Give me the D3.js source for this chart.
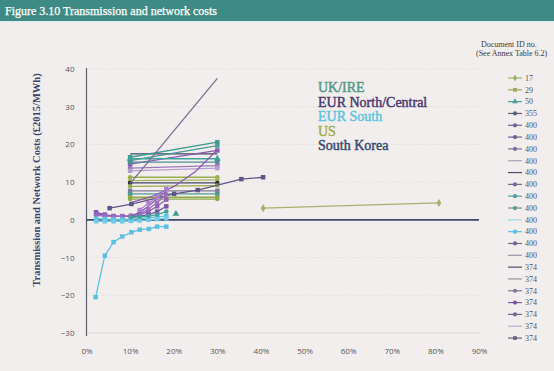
<!DOCTYPE html>
<html>
<head>
<meta charset="utf-8">
<script src="https://cdn.jsdelivr.net/npm/d3@7"></script>
<style>
	body { margin:0; background:#f3eeee; }
	svg { display:block; }
	.axis text { font-family:"Open Sans", sans-serif; font-size:8px; fill:#555; }
</style>
</head>
<body>
<div id="viz-container"></div>
<script>
// chart values
var xTickValues = [0,10,20,30,40,50,60,70,80,90];
var yTickValues = [-30,-20,-10,0,10,20,30,40];
var regionNames = ["UK/IRE","EUR North/Central","EUR South","US","South Korea"];
var docIds = ["17","29","50","355",
	"400","400","400","400","400","400","400","400","400","400","400","400",
	"374","374","374","374","374","374","374"];

// [renewable share %, cost £2015/MWh] per line
var seriesValues = [
	[[10,17.5],[30,17.5]],
	[[10,16.6],[30,20.6]],
	[[10,15.7],[30,19.7]],
	[[10,14.8],[30,18.4]],
	[[10,16.2],[30,16.2]],
	[[10,15.3],[30,15.3]],
	[[10,13.7],[30,14.4]],
	[[10,13.0],[30,13.7]],
	[[10,11.3],[30,11.3]],
	[[10,10.4],[30,10.6]],
	[[10,9.8],[30,9.8]],
	[[10,8.9],[30,9.1]],
	[[10,7.7],[30,7.7]],
	[[10,6.9],[30,6.9]],
	[[10,6.0],[30,6.0]],
	[[10,5.5],[30,5.5]],
	[[10,9.6],[30,37.5]],
	[[10,4.5],[15,6.2],[20,8.8],[25,12.8],[30,18.6]],
	[[5.3,3.1],[10.3,4.2],[20.1,6.9],[25.5,7.9],[35.5,10.8],[40.5,11.3]],
	[[40.5,3.1],[80.8,4.5]],
	[[20.5,1.6]],
	[[2.2,2.0],[4.2,1.4],[6.2,1.0],[8.2,0.9],[10.2,0.9],[12.2,1.0],[14.2,1.4],[16.2,2.2],[18.3,3.6]],
	[[2.2,1.6],[4.2,1.2],[6.2,1.0],[8.2,1.0],[10.2,1.1],[12.2,1.4],[14.2,2.2],[16.2,3.6],[18.3,5.4]],
	[[2.2,1.2],[4.2,1.0],[6.2,0.9],[8.2,0.9],[10.2,1.0],[12.2,1.6],[14.2,2.8],[16.2,4.6],[18.3,6.8]],
	[[10.2,1.0],[12.2,2.0],[14.2,3.6],[16.2,5.6],[18.3,7.6]],
	[[12.2,2.6],[14.2,4.4],[16.2,6.0],[18.3,8.2]],
	[[2.2,0.3],[4.2,0.2],[6.2,0.1],[8.2,0.1],[10.2,0.1],[12.2,0.3],[14.2,0.5],[16.2,0.8],[18.3,1.0]],
	[[2.2,-0.4],[4.2,-0.4],[6.2,-0.4],[8.2,-0.4],[10.2,-0.3],[12.2,-0.2],[14.2,0],[16.2,0.2],[18.3,0.4]],
	[[10.2,0.6],[12.2,0.8],[14.2,1.0],[16.2,1.4],[18.3,2.2]],
	[[2.1,-20.5],[4.2,-9.5],[6.2,-5.9],[8.2,-4.4],[10.3,-3.3],[12.2,-2.6],[14.3,-2.4],[16.2,-1.8],[18.3,-1.8]]
];

// styles, kept apart from the values
var seriesStyle = [
	["#3f4766","none"],["#3f9c90","square"],["#4a9a96","square"],["#8a5cb0","square"],
	["#3fa39c","triangle"],["#4f8e93","square"],["#9a7ab8","square"],["#b59fd0","square"],
	["#9aac4c","circle"],["#a5b35a","circle"],["#3f4766","circle"],["#9aac4c","circle"],
	["#7f7a9a","square"],["#4f9a90","square"],["#8fa84a","circle"],["#8fa84a","circle"],
	["#7a6f95","none"],["#8a5cb0","none"],["#5f5585","square"],["#a5b26b","diamond"],
	["#3f9c90","triangle"],
	["#7a55a5","square"],["#8d5fb5","square"],["#9b6cc0","circle"],["#8060a8","none"],["#b07ed0","square"],
	["#5bc3e3","square"],["#6fcbe6","square"],["#3fa39c","circle"],["#5bc0e0","square"]
];
var regionColors = ["#4f9a86","#4a3a6e","#5cc3dc","#a3ad4a","#384a70"];
var legendStyle = [
	["#9db067","diamond"],["#9aa85a","square"],["#4f9e95","triangle"],["#5b5f80","circle"],
	["#6d6790","circle"],["#6f5f92","circle"],["#7a7397","circle"],["#a7a0b8","none"],
	["#4a4d66","none"],["#6f6a90","circle"],["#49a3a3","circle"],["#5f9590","circle"],
	["#9fd6d6","none"],["#5bc0e0","square"],["#6e6690","circle"],["#9a96a8","none"],
	["#4a4d66","none"],["#9a8f98","none"],["#7a7a95","circle"],["#7d5a9a","circle"],
	["#6f6a92","circle"],["#b8aed0","none"],["#6a6285","square"]
];

var W = 554, H = 371;

var svg = d3.select('#viz-container')
	.append('svg')
		.attr('width', W)
		.attr('height', H);

svg.append('rect').attr('width', W).attr('height', H).attr('fill', '#f3eeee');

// title bar
svg.append('rect').attr('width', W).attr('height', 21).attr('fill', '#3e8b85');
svg.append('rect').attr('y', 21).attr('width', W).attr('height', 2).attr('fill', '#e6eeec');
svg.append('text')
	.attr('x', 5).attr('y', 15)
	.attr('font-family', '"Liberation Serif", serif')
	.attr('font-size', 12)
	.attr('fill', '#fff')
	.attr('stroke', '#fff').attr('stroke-width', 0.25)
	.text('Figure 3.10 Transmission and network costs');

var xScale = d3.scaleLinear().domain([0, 90]).range([86.5, 479]);
var yScale = d3.scaleLinear().domain([-30, 40]).range([333, 69]);

// faint grid
svg.append('g').selectAll('line')
	.data(yTickValues.filter(function(d){ return d !== 0; }))
	.enter().append('line')
		.attr('x1', xScale(0)).attr('x2', xScale(90))
		.attr('y1', function(d){ return yScale(d); })
		.attr('y2', function(d){ return yScale(d); })
		.attr('stroke', function(d){ return d === -30 ? '#dcd6d6' : '#e6e0e0'; })
		.attr('stroke-dasharray', function(d){ return d === -30 ? null : '3,2'; });

// axes
var yAxis = d3.axisLeft(yScale).tickValues(yTickValues).tickSize(0).tickPadding(12);
svg.append('g').attr('class', 'y axis')
	.attr('transform', 'translate(' + xScale(0) + ',0)')
	.call(yAxis)
	.call(function(g){ g.select('.domain').remove(); });

var xAxis = d3.axisBottom(xScale).tickValues(xTickValues)
	.tickFormat(function(d){ return d + '%'; })
	.tickSize(0).tickPadding(15);
svg.append('g').attr('class', 'x axis')
	.attr('transform', 'translate(0,' + yScale(-30) + ')')
	.call(xAxis)
	.call(function(g){ g.select('.domain').remove(); });

svg.append('line')
	.attr('x1', xScale(0)).attr('x2', xScale(0))
	.attr('y1', yScale(40) - 1).attr('y2', yScale(-30) + 3)
	.attr('stroke', '#5a5f6a').attr('stroke-width', 1.2);

svg.append('line')
	.attr('x1', xScale(0)).attr('x2', xScale(90))
	.attr('y1', yScale(0)).attr('y2', yScale(0))
	.attr('stroke', '#3d4a6a').attr('stroke-width', 1.6);

// y title
svg.append('text')
	.attr('transform', 'translate(40,' + 180 + ') rotate(-90)')
	.attr('text-anchor', 'middle')
	.attr('font-family', '"Liberation Serif", serif')
	.attr('font-weight', 'bold')
	.attr('font-size', 10.5)
	.attr('fill', '#36456b')
	.text('Transmission and Network Costs (£2015/MWh)');

var symbolTypes = {
	square: d3.symbolSquare,
	circle: d3.symbolCircle,
	triangle: d3.symbolTriangle,
	diamond: d3.symbolDiamond
};

var line = d3.line()
	.x(function(d){ return xScale(d[0]); })
	.y(function(d){ return yScale(d[1]); });

var plot = svg.append('g').attr('class', 'series');

seriesValues.forEach(function(vals, i){
	var col = seriesStyle[i][0], mk = seriesStyle[i][1];
	var g = plot.append('g');
	g.append('path')
		.attr('d', line(vals))
		.attr('fill', 'none')
		.attr('stroke', col)
		.attr('stroke-width', 1.3);
	if (mk !== 'none') {
		g.selectAll('path.pt')
			.data(vals)
			.enter().append('path')
				.attr('class', 'pt')
				.attr('transform', function(d){ return 'translate(' + xScale(d[0]) + ',' + yScale(d[1]) + ')'; })
				.attr('d', d3.symbol().type(symbolTypes[mk]).size(mk === 'circle' ? 16 : 20))
				.attr('fill', i === 10 ? '#222a3a' : col);
	}
});

// region key
svg.append('g').selectAll('text')
	.data(regionNames)
	.enter().append('text')
		.attr('x', 318)
		.attr('y', function(d, i){ return 92 + i * 14.6; })
		.attr('font-family', '"Liberation Serif", serif')
		.attr('font-size', 14)
		.attr('fill', function(d, i){ return regionColors[i]; })
		.attr('stroke', function(d, i){ return regionColors[i]; })
		.attr('stroke-width', 0.45)
		.text(function(d){ return d; });

// document legend
var legTitle = svg.append('g')
	.attr('font-family', '"Liberation Serif", serif')
	.attr('font-size', 8)
	.attr('fill', '#3a3a3a');
legTitle.append('text').attr('x', 481).attr('y', 47).text('Document ID no.');
legTitle.append('text').attr('x', 476).attr('y', 56).text('(See Annex Table 6.2)');

var leg = svg.append('g').selectAll('g')
	.data(docIds)
	.enter().append('g')
		.attr('transform', function(d, i){ return 'translate(0,' + (78 + i * 11.82) + ')'; });

leg.append('line')
	.attr('x1', 508).attr('x2', 522)
	.attr('stroke', function(d, i){ return legendStyle[i][0]; })
	.attr('stroke-width', 1.2);
leg.each(function(d, i){
	var mk = legendStyle[i][1];
	if (mk === 'none') return;
	d3.select(this).append('path')
		.attr('transform', 'translate(515,0)')
		.attr('d', d3.symbol().type(symbolTypes[mk]).size(14))
		.attr('fill', legendStyle[i][0]);
});
leg.append('text')
	.attr('x', 525).attr('y', 2.8)
	.attr('font-family', '"Liberation Serif", serif')
	.attr('font-size', 8)
	.attr('fill', '#555')
	.text(function(d){ return d; });
</script>
</body>
</html>
